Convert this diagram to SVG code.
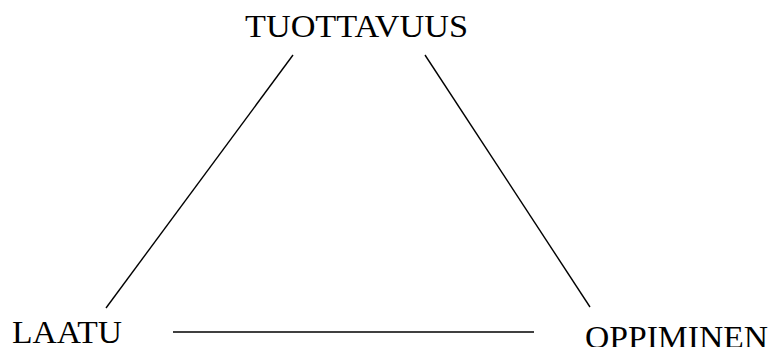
<svg xmlns="http://www.w3.org/2000/svg" width="773" height="347" viewBox="0 0 773 347">
<style>
text{font-family:"Liberation Serif","DejaVu Serif",serif;font-size:32px;fill:#000}
.c line{stroke:#000;stroke-width:1.4}
</style>
<rect width="773" height="347" fill="#fff"/>
<g class="c" id="connectors">
<line x1="293" y1="55" x2="106" y2="308"/>
<line x1="425" y1="55" x2="590" y2="307"/>
<line x1="173" y1="332" x2="534" y2="332"/>
</g>
<g id="tuottavuus"><text x="245" y="37" textLength="223" lengthAdjust="spacingAndGlyphs">TUOTTAVUUS</text></g>
<g id="laatu"><text x="12" y="343" textLength="110" lengthAdjust="spacingAndGlyphs">LAATU</text></g>
<g id="oppiminen"><text x="585" y="348" textLength="183" lengthAdjust="spacingAndGlyphs">OPPIMINEN</text></g>
</svg>
